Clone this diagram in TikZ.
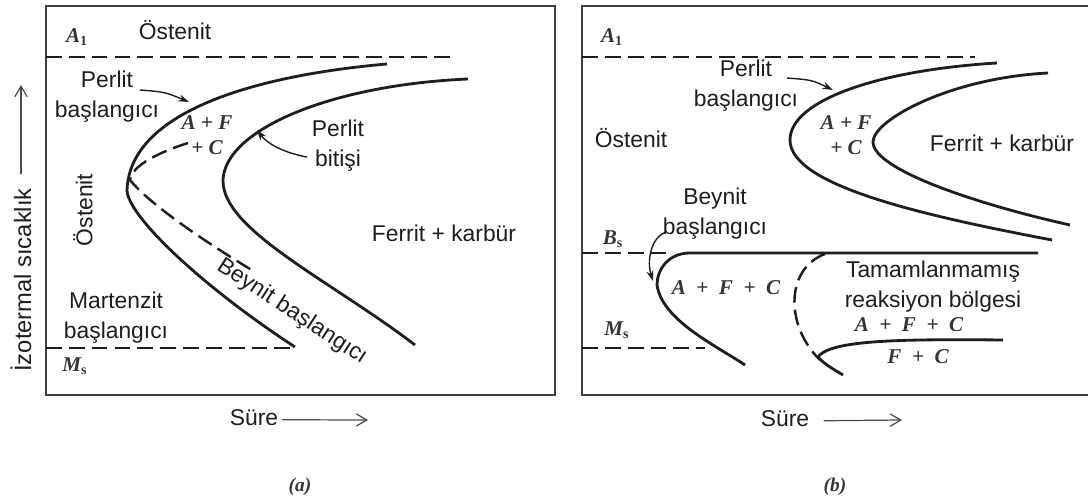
\documentclass[tikz,border=0pt]{standalone}
\usepackage{fontspec}
\setmainfont{Liberation Sans}
\newfontfamily\lserif{Liberation Serif}
\usetikzlibrary{arrows.meta}
\definecolor{ink}{HTML}{1E1E1E}
\tikzset{
  lbl/.style={font=\fontsize{13}{17}\selectfont, text=ink, inner sep=0pt, align=center},
  phase/.style={font=\lserif\bfseries\itshape\fontsize{12}{14.5}\selectfont, text=ink!90, inner sep=0pt, align=center},
  crv/.style={line width=1.6pt, draw=ink},
  dsh/.style={line width=1.4pt, draw=ink, dash pattern=on 9pt off 4pt},
  frame/.style={line width=1.1pt, draw=ink!85},
  lead/.style={line width=0.8pt, draw=ink, -{Stealth[length=6pt,width=4pt]}},
  axarr/.style={line width=0.7pt, draw=ink!80, -{Straight Barb[length=6pt,width=7pt]}},
}
\begin{document}
\begin{tikzpicture}[x=0.02cm,y=-0.02cm]
\useasboundingbox[fill=white] (0,0) rectangle (1088,499);

% ---------------- panel (a) ----------------
\draw[frame] (46,6) rectangle (555,395);
\draw[dsh] (46,57) -- (452,57);
\draw[dsh] (46,348) -- (295,348);

% pearlite start
\draw[crv] (387,64) .. controls (260,75) and (130,110) .. (127,190)
           .. controls (127,215) and (200,285) .. (295,347);
% pearlite finish
\draw[crv] (468,79) .. controls (330,85) and (225,130) .. (223,180)
           .. controls (222,230) and (330,280) .. (415,345);
% dashed curve
\draw[dsh] (188,143) .. controls (160,152) and (132,165) .. (130,180)
           .. controls (150,205) and (210,245) .. (255,272);

\node[phase] (a1a) at (77,37) {A\textsubscript{\upshape 1}};
\node[phase] (msa) at (75,366) {M\textsubscript{\upshape s}};
\node[lbl] (osta) at (175,30) {Östenit};
\node[lbl] (psa) at (107,97) {Perlit\\başlangıcı};
\node[phase] (afca) at (207,135) {A + F\\+ C};
\node[lbl] (pfa) at (338,146) {Perlit\\bitişi};
\node[lbl, rotate=90] (ostva) at (83,210) {Östenit};
\node[lbl] (msta) at (116,318) {Martenzit\\başlangıcı};
\node[lbl, rotate=-33] (bsa) at (292,312) {Beynit başlangıcı};
\node[lbl] (fka) at (444,233) {Ferrit + karbür};
\node[lbl, font=\fontsize{13.5}{17}\selectfont, rotate=90] (ylab) at (21,280) {İzotermal sıcaklık};
\node[lbl] (surea) at (254,418) {Süre};
\node[phase, font=\lserif\bfseries\itshape\fontsize{11}{13}\selectfont] (capa) at (300,487) {(a)};

\coordinate (psa-s) at (140,90);
\coordinate (psa-t) at (189,102);
\draw[lead] (psa-s) .. controls (165,92) .. (psa-t);
\coordinate (pfa-s) at (307,157);
\coordinate (pfa-t) at (257,130);
\draw[lead] (pfa-s) .. controls (280,152) and (266,142) .. (pfa-t);
\coordinate (yarr-e) at (21,85);
\draw[axarr] ([yshift=8pt]ylab.east) -- (yarr-e);
\coordinate (sarr-e) at (368,420);
\draw[axarr] ([xshift=2pt,yshift=-1pt]surea.east) -- (sarr-e);

% ---------------- panel (b) ----------------
\draw[frame] (1092,6) -- (582,6) -- (582,395) -- (1092,395);
\draw[dsh] (582,57) -- (975,57);
\draw[dsh] (582,253) -- (672,253);
\draw[dsh] (582,348) -- (705,348);

% pearlite start / finish
\draw[crv] (997,63) .. controls (880,70) and (790,100) .. (790,140)
           .. controls (790,185) and (920,215) .. (1052,240);
\draw[crv] (1048,73) .. controls (950,78) and (873,120) .. (873,142)
           .. controls (873,170) and (980,205) .. (1070,225);
% bainite start
\draw[crv] (1038,253) -- (690,253) .. controls (668,253) and (657,270) .. (657,285)
           .. controls (662,320) and (715,345) .. (745,365);
% dashed boundary of incomplete region
\draw[dsh] (825,254) .. controls (795,265) and (788,300) .. (800,330)
           .. controls (806,345) and (814,354) .. (820,360);
% lower F+C curve
\draw[crv] (1003,340) .. controls (900,339) and (830,340) .. (818,357)
           .. controls (825,365) and (835,370) .. (843,375);

\node[phase] (a1b) at (612,37) {A\textsubscript{\upshape 1}};
\node[phase] (bsb) at (613,239) {B\textsubscript{\upshape s}};
\node[phase] (msb) at (617,330) {M\textsubscript{\upshape s}};
\node[lbl] (psb) at (746,86) {Perlit\\başlangıcı};
\node[phase] (afcb) at (846,135) {A + F\\+ C};
\node[lbl] (ostb) at (631,138) {Östenit};
\node[lbl] (fkb) at (1002,143) {Ferrit + karbür};
\node[lbl] (bysb) at (715,214) {Beynit\\başlangıcı};
\node[phase] (afc2b) at (726,288) {A \ + \ F \ + \ C};
\node[lbl] (tmb) at (933,287) {Tamamlanmamış\\reaksiyon bölgesi};
\node[phase] (afc3b) at (909,325) {A \ + \ F \ + \ C};
\node[phase] (fcb) at (918,357) {F \ + \ C};
\node[lbl] (sureb) at (785,419) {Süre};
\node[phase, font=\lserif\bfseries\itshape\fontsize{11}{13}\selectfont] (capb) at (835,487) {(b)};

\coordinate (psb-s) at (787,78);
\coordinate (psb-t) at (833,90);
\draw[lead] (psb-s) .. controls (812,80) .. (psb-t);
\coordinate (bysb-s) at (666,232);
\coordinate (bysb-t) at (653,281);
\draw[lead] (bysb-s) .. controls (650,238) and (647,262) .. (bysb-t);
\coordinate (sarrb-e) at (902,420);
\draw[axarr] ([xshift=8pt,yshift=-1pt]sureb.east) -- (sarrb-e);
\end{tikzpicture}
\end{document}
